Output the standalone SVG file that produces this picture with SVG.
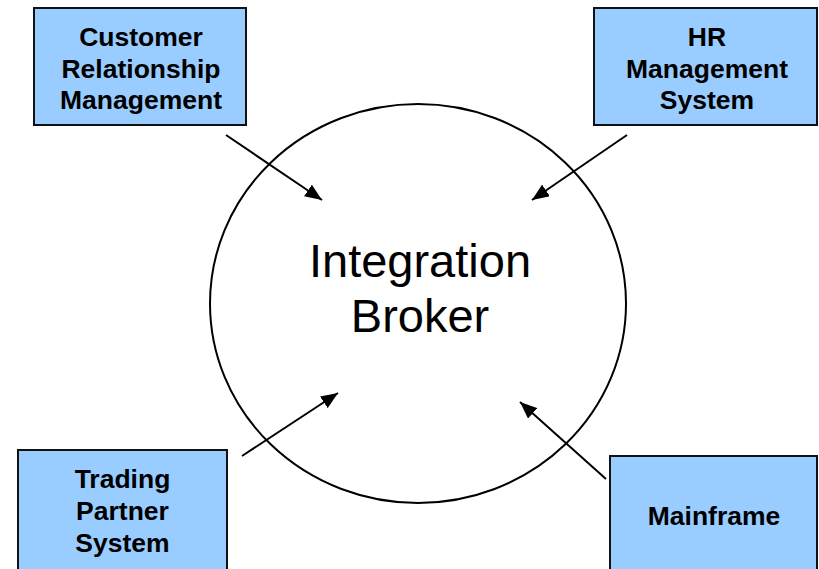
<svg xmlns="http://www.w3.org/2000/svg" width="819" height="569" viewBox="0 0 819 569">
<style>
.box{fill:#99CCFF;stroke:#111;stroke-width:2}
.lbl{font-family:"Liberation Sans",Arial,sans-serif;font-weight:bold;font-size:26.5px;fill:#000;text-anchor:middle}
.big{font-family:"Liberation Sans",Arial,sans-serif;font-size:47px;fill:#000;text-anchor:middle}
.conn{stroke:#000;stroke-width:2;fill:none;marker-end:url(#ah)}
</style>
<defs>
<marker id="ah" markerUnits="userSpaceOnUse" markerWidth="18" markerHeight="14" refX="17" refY="7" orient="auto">
<path d="M0,0 L17,7 L0,14 Z" fill="#000"/>
</marker>
</defs>
<rect width="819" height="569" fill="#fff"/>
<g id="broker">
<ellipse cx="418" cy="303.5" rx="208" ry="199.5" fill="none" stroke="#000" stroke-width="2"/>
<text class="big" x="420" y="277">Integration</text>
<text class="big" x="420" y="332">Broker</text>
</g>
<g id="crm">
<rect class="box" x="34" y="8" width="212" height="117"/>
<text class="lbl" x="141" y="45.5">Customer</text>
<text class="lbl" x="141" y="77.5">Relationship</text>
<text class="lbl" x="141" y="109">Management</text>
</g>
<g id="hr">
<rect class="box" x="594" y="8" width="223" height="117"/>
<text class="lbl" x="707" y="45.5">HR</text>
<text class="lbl" x="707" y="77.5">Management</text>
<text class="lbl" x="707" y="109">System</text>
</g>
<g id="trading">
<rect class="box" x="18" y="450" width="209" height="140"/>
<text class="lbl" x="122.5" y="488">Trading</text>
<text class="lbl" x="122.5" y="520">Partner</text>
<text class="lbl" x="122.5" y="551.5">System</text>
</g>
<g id="mainframe">
<rect class="box" x="610" y="456" width="207" height="140"/>
<text class="lbl" x="714" y="525">Mainframe</text>
</g>
<g id="connectors">
<line class="conn" x1="226" y1="135" x2="322" y2="200"/>
<line class="conn" x1="627" y1="135" x2="532" y2="200"/>
<line class="conn" x1="242" y1="456" x2="338" y2="393"/>
<line class="conn" x1="606" y1="479" x2="520" y2="402"/>
</g>
</svg>
